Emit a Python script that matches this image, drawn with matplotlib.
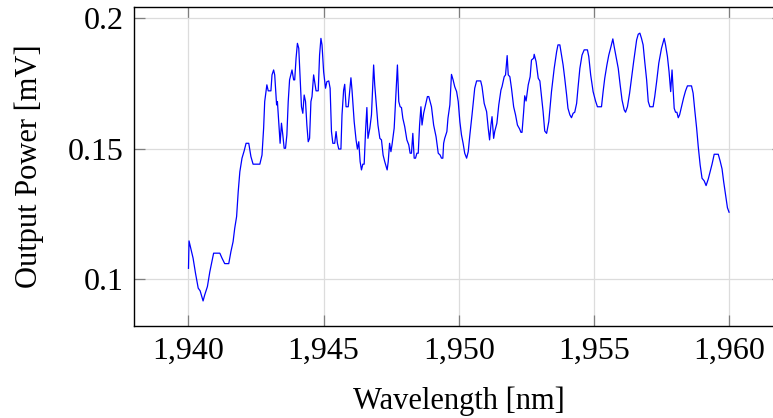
import matplotlib
matplotlib.use('Agg')
import matplotlib.pyplot as plt
from matplotlib.ticker import FuncFormatter

plt.rcParams['font.family'] = ['Liberation Serif', 'DejaVu Serif']

# wavelength [nm] and output power [mV]
wavelength = [
    1940.00, 1940.02, 1940.17, 1940.26, 1940.36, 1940.43, 1940.54, 1940.60, 1940.70, 1940.79,
    1940.93, 1941.16, 1941.24, 1941.34, 1941.49, 1941.57, 1941.65, 1941.71, 1941.78, 1941.84,
    1941.90, 1941.98, 1942.06, 1942.13, 1942.23, 1942.31, 1942.39, 1942.64, 1942.72, 1942.78,
    1942.82, 1942.90, 1942.95, 1943.05, 1943.09, 1943.15, 1943.19,
    1943.26, 1943.29, 1943.37, 1943.39, 1943.44, 1943.49, 1943.54, 1943.59, 1943.64, 1943.69,
    1943.74, 1943.83, 1943.89, 1943.93, 1943.98, 1944.03, 1944.08, 1944.13, 1944.18, 1944.23,
    1944.28, 1944.33, 1944.38, 1944.43, 1944.48, 1944.53, 1944.57, 1944.63, 1944.67, 1944.72,
    1944.80, 1944.85, 1944.90, 1944.94, 1945.00, 1945.07, 1945.12, 1945.19, 1945.24, 1945.29,
    1945.34, 1945.41, 1945.46, 1945.51, 1945.56, 1945.64, 1945.68, 1945.74, 1945.78, 1945.83,
    1945.91, 1946.01, 1946.05, 1946.13, 1946.20, 1946.25, 1946.30, 1946.35, 1946.40, 1946.45,
    1946.50, 1946.55, 1946.60, 1946.64, 1946.71,
    1946.77, 1946.85, 1946.89, 1946.96, 1947.01, 1947.08, 1947.14, 1947.20, 1947.26, 1947.35,
    1947.39, 1947.44, 1947.49, 1947.53, 1947.61, 1947.66, 1947.73, 1947.78, 1947.83, 1947.88,
    1947.93, 1948.00, 1948.08, 1948.15, 1948.20, 1948.25, 1948.30, 1948.35, 1948.40, 1948.45,
    1948.50, 1948.55, 1948.60, 1948.64, 1948.70, 1948.77, 1948.84, 1948.89, 1948.99, 1949.07,
    1949.16, 1949.24, 1949.31, 1949.36, 1949.41, 1949.44, 1949.48, 1949.56, 1949.60, 1949.67,
    1949.73, 1949.79, 1949.85,
    1949.92, 1949.98, 1950.04, 1950.10, 1950.16, 1950.22, 1950.29, 1950.35, 1950.41, 1950.49,
    1950.59, 1950.66, 1950.81, 1950.86, 1950.94, 1951.03, 1951.09, 1951.14, 1951.19, 1951.23,
    1951.29, 1951.33, 1951.41, 1951.48, 1951.56, 1951.60, 1951.68, 1951.73, 1951.79, 1951.83,
    1951.89, 1951.95, 1952.03, 1952.10, 1952.17, 1952.25, 1952.30, 1952.34, 1952.40, 1952.44,
    1952.49, 1952.57, 1952.64, 1952.69, 1952.77, 1952.79, 1952.86, 1952.94, 1953.00, 1953.06,
    1953.12, 1953.18, 1953.25,
    1953.33, 1953.43, 1953.53, 1953.62, 1953.67, 1953.74, 1953.80, 1953.86, 1953.92, 1953.99,
    1954.04, 1954.11, 1954.17, 1954.23, 1954.29, 1954.36, 1954.41, 1954.48, 1954.56, 1954.64,
    1954.76, 1954.81, 1954.88, 1954.97, 1955.06, 1955.13, 1955.28, 1955.34, 1955.40, 1955.48,
    1955.55, 1955.63, 1955.70, 1955.75, 1955.82, 1955.90, 1955.97, 1956.04, 1956.12, 1956.17,
    1956.24, 1956.32, 1956.39, 1956.47,
    1956.58, 1956.64, 1956.70, 1956.76, 1956.82, 1956.88, 1956.95, 1957.01, 1957.07, 1957.19,
    1957.25, 1957.32, 1957.40, 1957.50, 1957.60, 1957.65, 1957.72, 1957.78, 1957.84, 1957.89,
    1957.93, 1957.97, 1958.02, 1958.07, 1958.12, 1958.17, 1958.24, 1958.32, 1958.39, 1958.46,
    1958.61, 1958.67, 1958.73, 1958.80, 1958.86, 1958.93, 1959.00, 1959.08, 1959.15, 1959.23,
    1959.30, 1959.37, 1959.45, 1959.60, 1959.67, 1959.74, 1959.80, 1959.87, 1959.94, 1960.00,
]
power = [
    0.1042, 0.1147, 0.1081, 0.1023, 0.0966, 0.0956, 0.0917, 0.0940, 0.0972, 0.1029,
    0.1100, 0.1100, 0.1081, 0.1060, 0.1060, 0.1106, 0.1144, 0.1195, 0.1240, 0.1336,
    0.1412, 0.1464, 0.1492, 0.1521, 0.1521, 0.1470, 0.1441, 0.1441, 0.1476, 0.1579,
    0.1681, 0.1745, 0.1722, 0.1722, 0.1783, 0.1802, 0.1783,
    0.1668, 0.1681, 0.1553, 0.1521, 0.1598, 0.1553, 0.1502, 0.1502, 0.1553, 0.1681,
    0.1764, 0.1802, 0.1764, 0.1764, 0.1847, 0.1904, 0.1885, 0.1770, 0.1661, 0.1636,
    0.1706, 0.1681, 0.1591, 0.1527, 0.1540, 0.1681, 0.1700, 0.1783, 0.1757, 0.1722,
    0.1722, 0.1859, 0.1923, 0.1898, 0.1795, 0.1732, 0.1757, 0.1760, 0.1732, 0.1566,
    0.1521, 0.1521, 0.1566, 0.1521, 0.1499, 0.1499, 0.1630, 0.1725, 0.1747, 0.1661,
    0.1661, 0.1772, 0.1725, 0.1604, 0.1534, 0.1499, 0.1527, 0.1451, 0.1419, 0.1441,
    0.1441, 0.1566, 0.1658, 0.1540, 0.1579,
    0.1630, 0.1821, 0.1745, 0.1655, 0.1591, 0.1540, 0.1534, 0.1476, 0.1451, 0.1419,
    0.1451, 0.1521, 0.1489, 0.1515, 0.1579, 0.1681, 0.1821, 0.1681, 0.1661, 0.1658,
    0.1617, 0.1585, 0.1534, 0.1515, 0.1483, 0.1483, 0.1559, 0.1464, 0.1464, 0.1483,
    0.1483, 0.1591, 0.1661, 0.1591, 0.1636, 0.1668, 0.1700, 0.1700, 0.1661, 0.1591,
    0.1546, 0.1483, 0.1476, 0.1464, 0.1464, 0.1521, 0.1540, 0.1566, 0.1617, 0.1668,
    0.1785, 0.1764, 0.1738,
    0.1719, 0.1681, 0.1604, 0.1553, 0.1521, 0.1483, 0.1464, 0.1489, 0.1553, 0.1630,
    0.1732, 0.1760, 0.1760, 0.1738, 0.1674, 0.1642, 0.1579, 0.1534, 0.1591, 0.1623,
    0.1540, 0.1566, 0.1598, 0.1668, 0.1725, 0.1738, 0.1776, 0.1783, 0.1857, 0.1783,
    0.1776, 0.1732, 0.1661, 0.1630, 0.1591, 0.1576, 0.1563, 0.1563, 0.1642, 0.1703,
    0.1683, 0.1745, 0.1776, 0.1840, 0.1847, 0.1862, 0.1834, 0.1770, 0.1760, 0.1700,
    0.1642, 0.1568, 0.1559,
    0.1604, 0.1719, 0.1808, 0.1872, 0.1898, 0.1898, 0.1859, 0.1821, 0.1770, 0.1706,
    0.1655, 0.1630, 0.1619, 0.1636, 0.1640, 0.1674, 0.1732, 0.1808, 0.1859, 0.1879,
    0.1879, 0.1853, 0.1783, 0.1719, 0.1683, 0.1661, 0.1661, 0.1719, 0.1770, 0.1821,
    0.1859, 0.1891, 0.1921, 0.1891, 0.1853, 0.1808, 0.1745, 0.1687, 0.1649, 0.1640,
    0.1661, 0.1713, 0.1770, 0.1834,
    0.1917, 0.1939, 0.1943, 0.1923, 0.1898, 0.1834, 0.1764, 0.1681, 0.1661, 0.1661,
    0.1700, 0.1757, 0.1828, 0.1885, 0.1923, 0.1898, 0.1853, 0.1795, 0.1719, 0.1802,
    0.1725, 0.1655, 0.1640, 0.1640, 0.1619, 0.1630, 0.1661, 0.1696, 0.1722, 0.1741,
    0.1741, 0.1713, 0.1649, 0.1579, 0.1508, 0.1438, 0.1387, 0.1377, 0.1359, 0.1384,
    0.1412, 0.1441, 0.1479, 0.1479, 0.1453, 0.1423, 0.1374, 0.1323, 0.1274, 0.1257,
]
xticks = [1940, 1945, 1950, 1955, 1960]
yticks = [0.1, 0.15, 0.2]

fig = plt.figure(figsize=(7.73, 4.18), dpi=100)
ax = fig.add_axes([0.1739, 0.2201, 0.8392, 0.7624])

ax.plot(wavelength, power, color='#0000ff', lw=0.9)

ax.set_xlim(1938, 1962)
ax.set_ylim(0.0821, 0.2042)
ax.set_xticks(xticks)
ax.set_yticks(yticks)
ax.xaxis.set_major_formatter(FuncFormatter(lambda v, p: f'{v:,.0f}'))
ax.yaxis.set_major_formatter(FuncFormatter(lambda v, p: f'{v:g}'))

ax.grid(True, color='#dcdcdc', lw=0.9)
ax.set_axisbelow(True)
ax.tick_params(direction='in', length=8, width=0.9, color='#7f7f7f',
               top=True, right=True, labelsize=23, pad=8)
for s in ax.spines.values():
    s.set_linewidth(1.0)
    s.set_color('black')

ax.set_xlabel('Wavelength [nm]', fontsize=22, labelpad=15)
ax.set_ylabel('Output Power [mV]', fontsize=22, labelpad=17)

fig.savefig('out.png', dpi=100)
